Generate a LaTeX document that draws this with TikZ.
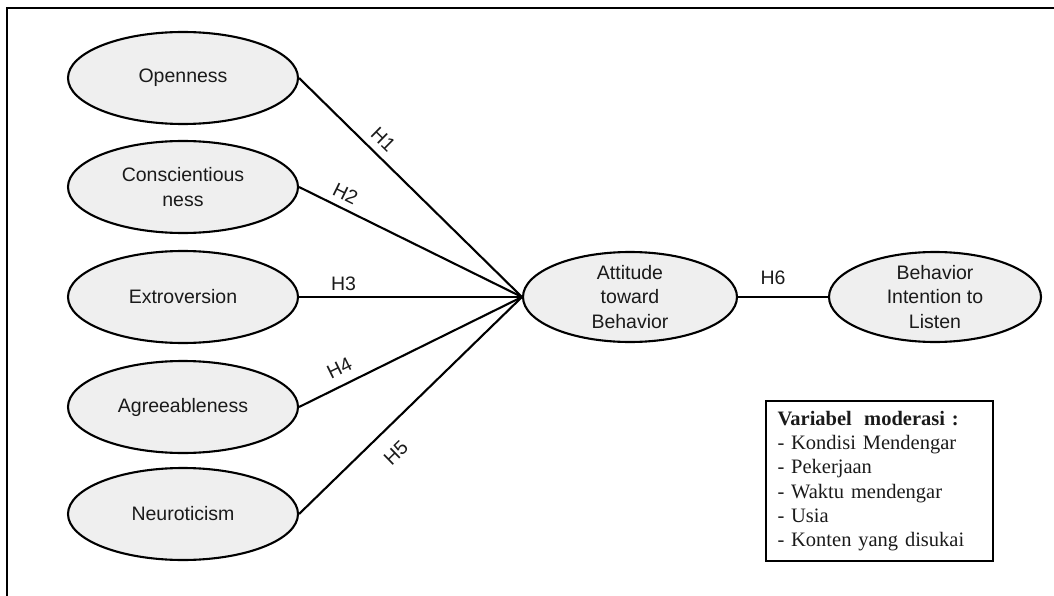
\documentclass[tikz,border=0pt]{standalone}
\usepackage{fontspec}
\setmainfont{Liberation Sans}
\newfontfamily\boxfont{Liberation Serif}
\usetikzlibrary{shapes.geometric}
\definecolor{ellfill}{HTML}{EFEFEF}
\definecolor{inkc}{HTML}{1A1A1A}
\begin{document}
\begin{tikzpicture}[x=1pt,y=-1pt,
  var/.style={ellipse, draw=black, line width=2.1pt, fill=ellfill, text=inkc,
    minimum width=230pt, minimum height=92pt, inner xsep=0pt, inner ysep=-5pt,
    align=center, font=\fontsize{19.5}{24.7}\selectfont},
  link/.style={line width=2.1pt, draw=black},
  hlab/.style={font=\fontsize{19.5}{22}\selectfont, inner sep=0pt, sloped, text=inkc},
  frameline/.style={line width=1.6pt, draw=black}
]
\useasboundingbox (0,0) rectangle (1054,596);
\coordinate (fl) at (7,596);
\coordinate (fc) at (7,8);
\coordinate (fr) at (1054,8);
\draw[frameline] (fl) -- (fc) -- (fr);

\node[var] (O) at (183,78) {Openness};
\node[var] (C) at (183,187) {Conscientious\\ness};
\node[var] (E) at (183,297) {Extroversion};
\node[var] (A) at (183,407) {Agreeableness};
\node[var] (N) at (183,514) {Neuroticism};
\node[var, minimum width=214pt, minimum height=90pt] (Att) at (630,297) {Attitude\\toward\\Behavior};
\node[var, minimum width=212pt, minimum height=90pt] (BI) at (935,297) {Behavior\\Intention to\\Listen};

\draw[link] (O.east) -- node[hlab, pos=0.33, above=7.5pt] {H1} (Att.west);
\draw[link] (C.east) -- node[hlab, pos=0.18, above=6.5pt] {H2} (Att.west);
\draw[link] (E.east) -- node[hlab, pos=0.2, above=5pt] {H3} (Att.west);
\draw[link] (A.east) -- node[hlab, pos=0.215, above=9.5pt] {H4} (Att.west);
\draw[link] (N.east) -- node[hlab, pos=0.36, below=16pt] {H5} (Att.west);
\draw[link] (Att.east) -- node[hlab, pos=0.39, above=11.5pt] {H6} (BI.west);

\node[draw=black, line width=2pt, anchor=north west, minimum width=227pt, minimum height=160pt,
  inner xsep=11pt, inner ysep=0pt, align=left, text=inkc,
  font=\boxfont\fontsize{20.5}{24.2}\selectfont, text width=204pt] (mod) at (765,400)
  {\textbf{Variabel\hspace{0.6em}moderasi :}\\- Kondisi Mendengar\\- Pekerjaan\\- Waktu mendengar\\- Usia\\- Konten yang disukai};
\end{tikzpicture}
\end{document}
